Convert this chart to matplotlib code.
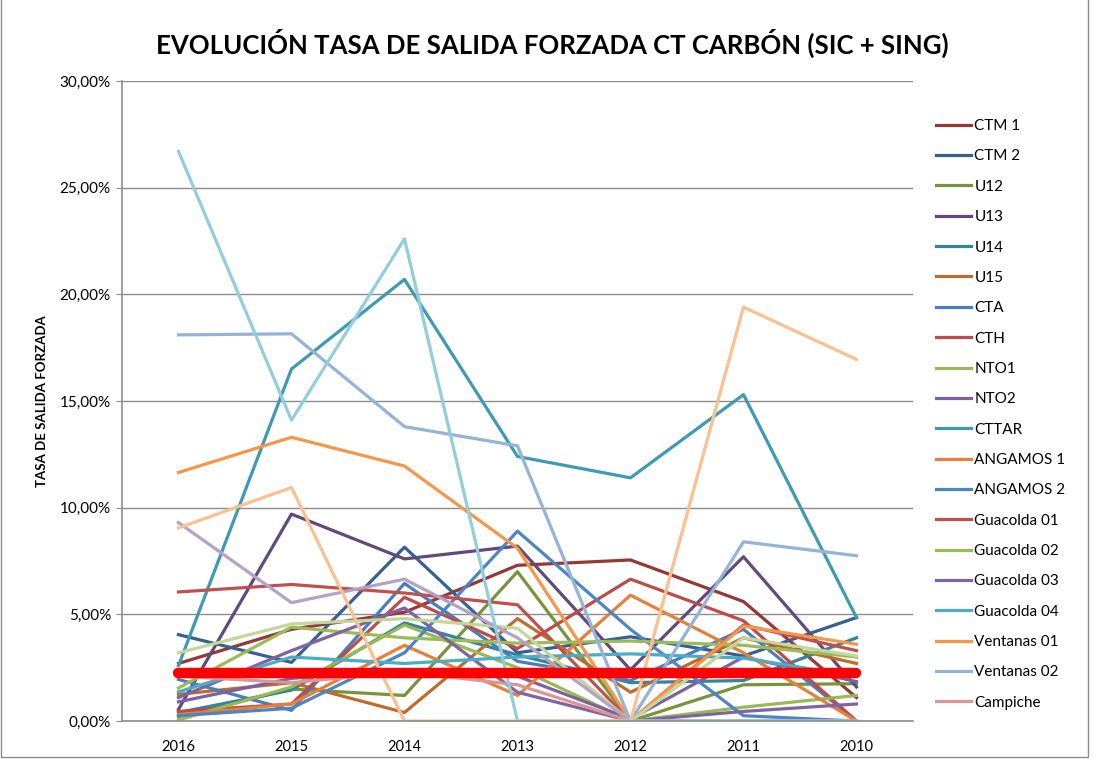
import numpy as np
import matplotlib.pyplot as plt
from matplotlib.patches import Rectangle

plt.rcParams['font.family'] = ['Lato', 'DejaVu Sans']

years = ['2016', '2015', '2014', '2013', '2012', '2011', '2010']

# tasa de salida forzada (%) por central, de 2016 a 2010
ctm1 = [2.7, 4.3, 5.1, 7.3, 7.55, 5.6, 1.1]
ctm2 = [4.05, 2.75, 8.15, 3.2, 3.95, 3.05, 4.85]
u12 = [0.2, 1.5, 1.2, 7.0, 0.0, 1.7, 1.75]
u13 = [0.55, 9.7, 7.6, 8.2, 2.4, 7.7, 1.6]
u14 = [0.4, 1.45, 4.6, 3.1, 1.8, 1.9, 3.9]
u15 = [1.25, 1.8, 0.4, 4.8, 1.35, 3.9, 2.7]
cta = [1.95, 0.5, 6.45, 2.8, 1.9, 4.3, 0.0]
cth = [0.45, 0.8, 5.8, 3.4, 6.65, 4.7, 0.0]
nto1 = [0.05, 1.6, 4.5, 2.5, 0.0, 0.65, 1.2]
nto2 = [0.9, 2.0, 2.4, 2.1, 0.1, 3.0, 1.85]
cttar = [2.6, 16.5, 20.7, 12.4, 11.4, 15.3, 4.85]
angamos1 = [0.3, 0.8, 3.55, 1.2, 5.9, 3.2, 0.0]
angamos2 = [0.25, 0.6, 3.2, 8.9, 4.3, 0.25, 0.0]
guacolda1 = [6.05, 6.4, 6.0, 5.45, 0.0, 4.5, 3.3]
guacolda2 = [1.55, 4.4, 3.9, 3.65, 3.75, 3.55, 3.0]
guacolda3 = [1.1, 3.3, 5.3, 1.35, 0.0, 0.45, 0.8]
guacolda4 = [1.37, 3.0, 2.7, 3.0, 3.15, 2.95, 2.1]
ventanas1 = [11.65, 13.3, 11.95, 8.1, 0.0, 4.45, 3.6]
ventanas2 = [18.1, 18.15, 13.8, 12.9, 0.0, 8.4, 7.75]
campiche = [2.1, 1.8, 2.3, 1.7, 0.0, 0.0, 0.0]

# series sin entrada en la leyenda
serie21 = [3.2, 4.55, 4.8, 4.35, 0.0, 3.9, 3.05]
serie22 = [9.3, 5.55, 6.65, 3.9, 0.0, 0.0, 0.0]
serie23 = [26.7, 14.1, 22.6, 0.0, 0.0, 0.0, 0.0]
serie24 = [9.05, 10.95, 0.0, 0.0, 0.0, 19.4, 16.95]
referencia = [2.25] * 7

series = [
    ('CTM 1', ctm1, '#953735'),
    ('CTM 2', ctm2, '#376092'),
    ('U12', u12, '#77933C'),
    ('U13', u13, '#604A7B'),
    ('U14', u14, '#31859C'),
    ('U15', u15, '#BE6C2E'),
    ('CTA', cta, '#4A7EBB'),
    ('CTH', cth, '#BE4B48'),
    ('NTO1', nto1, '#98B954'),
    ('NTO2', nto2, '#7D60A0'),
    ('CTTAR', cttar, '#3E9AB2'),
    ('ANGAMOS 1', angamos1, '#E5803A'),
    ('ANGAMOS 2', angamos2, '#4C84C4'),
    ('Guacolda 01', guacolda1, '#C0504D'),
    ('Guacolda 02', guacolda2, '#9BBB59'),
    ('Guacolda 03', guacolda3, '#8064A2'),
    ('Guacolda 04', guacolda4, '#4BACC6'),
    ('Ventanas 01', ventanas1, '#F79646'),
    ('Ventanas 02', ventanas2, '#95B3D7'),
    ('Campiche', campiche, '#D99694'),
]
extras = [
    (serie21, '#C3D69B'),
    (serie22, '#B3A2C7'),
    (serie23, '#93CDDD'),
    (serie24, '#FAC090'),
]

fig = plt.figure(figsize=(10.93, 7.59), dpi=100)
ax = fig.add_axes([0.1116, 0.05, 0.7237, 0.8433])
x = np.arange(len(years))

handles = []
for name, vals, color in series:
    line, = ax.plot(x, vals, color=color, lw=2.3, label=name, solid_joinstyle='round')
    handles.append(line)
for vals, color in extras:
    ax.plot(x, vals, color=color, lw=2.3, solid_joinstyle='round')
ax.plot(x, referencia, color='#FF0000', lw=7.5, solid_capstyle='round')

ax.set_xlim(-0.5, 6.5)
ax.set_ylim(0, 30)
ax.set_xticks(x)
ax.set_xticklabels(years, fontsize=10.5)
yt = np.arange(0, 31, 5)
ax.set_yticks(yt)
ax.set_yticklabels([f'{v:.2f}%'.replace('.', ',') for v in yt], fontsize=11)
ax.grid(axis='y', color='#8C8C8C', lw=1.0)
ax.set_axisbelow(True)
for s in ['top', 'right']:
    ax.spines[s].set_visible(False)
ax.spines['left'].set_color('#8C8C8C')
ax.spines['bottom'].set_color('#8C8C8C')
ax.spines['left'].set_linewidth(1.2)
ax.spines['bottom'].set_linewidth(1.2)
ax.tick_params(axis='x', length=0, pad=14)
ax.tick_params(axis='y', length=4, color='#8C8C8C', pad=4)

ax.set_ylabel('TASA DE SALIDA FORZADA', fontsize=9.5, fontweight='bold')
ax.yaxis.set_label_coords(-0.093, 0.5)
fig.suptitle('EVOLUCIÓN TASA DE SALIDA FORZADA CT CARBÓN (SIC + SING)',
             fontsize=18.5, fontweight='bold', x=0.505, y=0.962)

fig.legend(handles=handles, loc='upper left', bbox_to_anchor=(930 / 1093, 1 - 113 / 759),
           frameon=False, fontsize=11, handlelength=2.3, handletextpad=0.2,
           labelspacing=1.07, borderaxespad=0)

fig.add_artist(Rectangle((0.001, 0.002), 0.994, 1.2, transform=fig.transFigure,
                         fill=False, edgecolor='#8C8C8C', lw=1.0))

fig.savefig('out.png', dpi=100)
